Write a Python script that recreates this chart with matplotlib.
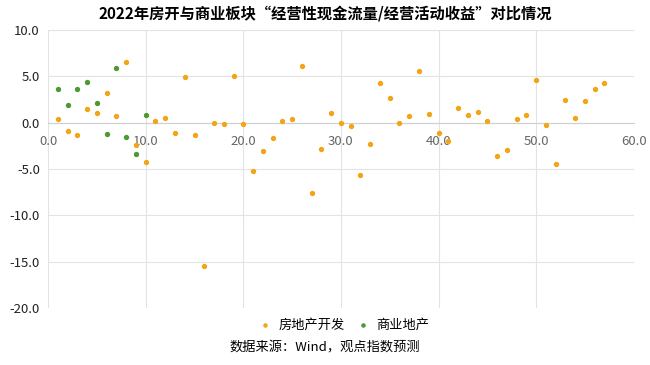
import numpy as np
import matplotlib
matplotlib.use("Agg")
import matplotlib.pyplot as plt

plt.rcParams['font.family'] = ['Noto Sans CJK SC', 'DejaVu Sans']
plt.rcParams['axes.unicode_minus'] = False

# 房地产开发
dev_x = list(range(1, 58))
dev_y = [0.35, -0.9, -1.3, 1.5, 1.0, 3.25, 0.7, 6.55, -2.4, -4.25,
         0.2, 0.5, -1.15, 4.95, -1.35, -15.45, 0.0, -0.1, 5.0, -0.1,
         -5.25, -3.05, -1.7, 0.15, 0.35, 6.15, -7.6, -2.8, 1.0, 0.0,
         -0.4, -5.7, -2.35, 4.25, 2.7, 0.0, 0.75, 5.6, 0.9, -1.1,
         -2.0, 1.55, 0.8, 1.15, 0.15, -3.55, -2.95, 0.35, 0.8, 4.65,
         -0.3, -4.5, 2.45, 0.5, 2.35, 3.6, 4.25]

# 商业地产
com_x = list(range(1, 11))
com_y = [3.6, 1.95, 3.6, 4.35, 2.15, -1.2, 5.9, -1.55, -3.35, 0.8]

title = '2022年房开与商业板块“经营性现金流量/经营活动收益”对比情况'
source = '数据来源：Wind，观点指数预测'

fig = plt.figure(figsize=(6.5, 3.65), dpi=100)
ax = fig.add_axes([0.074, 0.156, 0.901, 0.762])

ax.scatter(dev_x, dev_y, s=8, color='#f2a516', label='房地产开发', zorder=3)
ax.scatter(com_x, com_y, s=8, color='#4e9a32', label='商业地产', zorder=3)

ax.set_xlim(0, 60)
ax.set_ylim(-20, 10)
ax.set_xticks(np.arange(0, 61, 10))
ax.set_yticks(np.arange(-20, 11, 5))
ax.set_xticklabels([f'{v:.1f}' for v in np.arange(0, 61, 10)])
ax.set_yticklabels([f'{v:.1f}' for v in np.arange(-20, 11, 5)])

ax.grid(True, color='#e3e3e3', linewidth=0.8, zorder=0)
ax.set_axisbelow(True)
for s in ['top', 'right', 'left']:
    ax.spines[s].set_visible(False)
ax.spines['bottom'].set_position(('data', 0))
ax.spines['bottom'].set_color('#d0d0d0')
ax.spines['bottom'].set_linewidth(0.8)

ax.tick_params(axis='x', length=0, pad=9, labelsize=9.5, labelcolor='#666666')
ax.tick_params(axis='y', length=0, pad=6, labelsize=9.5, labelcolor='#222222')
for lab in ax.get_xticklabels():
    lab.set_zorder(5)

fig.text(0.5, 0.962, title, ha='center', va='center', fontsize=11,
         fontweight='bold')

ax.legend(loc='center', bbox_to_anchor=(0.5, -0.06), ncol=2, frameon=False,
          fontsize=9.5, handletextpad=0.0, columnspacing=0.4, markerscale=0.8)

fig.text(0.5, 0.047, source, ha='center', va='center', fontsize=9.5)

fig.savefig('out.png', dpi=100)
